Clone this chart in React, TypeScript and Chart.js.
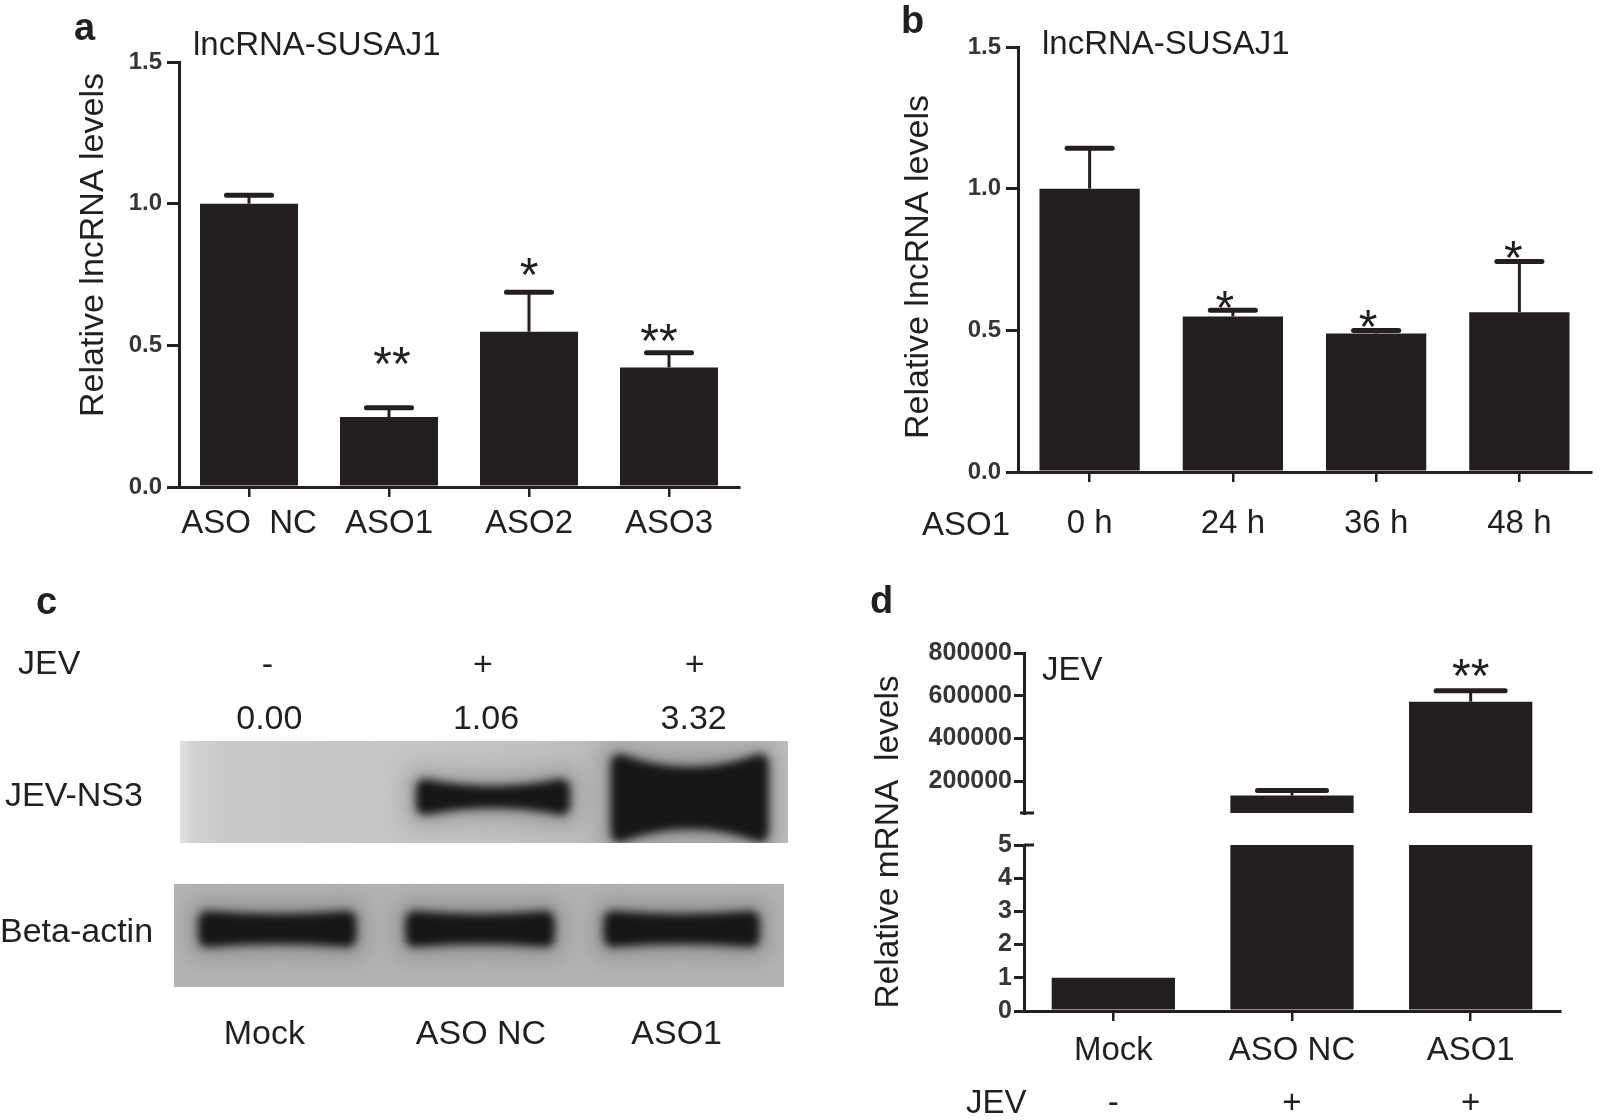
import React, { useEffect, useRef } from 'react';
import { Chart, registerables } from 'chart.js';

Chart.register(...registerables);

// ---------------- data ----------------
// Panel a
const aCategories = ['ASO  NC', 'ASO1', 'ASO2', 'ASO3'];
const aValues = [1.0, 0.247, 0.548, 0.422];
const aErrors = [0.03, 0.033, 0.139, 0.052];
const aStars = ['', '**', '*', '**'];
const aStarLevels = [null, 0.475, 0.79, 0.556];
const aTicks = [0, 0.5, 1.0, 1.5];

// Panel b
const bCategories = ['0 h', '24 h', '36 h', '48 h'];
const bValues = [1.0, 0.549, 0.489, 0.564];
const bErrors = [0.143, 0.022, 0.01, 0.179];
const bStars = ['', '*', '*', '*'];
const bStarLevels = [null, 0.62, 0.553, 0.795];
const bTicks = [0, 0.5, 1.0, 1.5];

// Panel c (western blot)
const cLanes = ['Mock', 'ASO NC', 'ASO1'];
const cJev = ['-', '+', '+'];
const cNs3 = [0.0, 1.06, 3.32];
const cNs3Labels = ['0.00', '1.06', '3.32'];
const cActin = [1, 1, 1];

// Panel d
const dCategories = ['Mock', 'ASO NC', 'ASO1'];
const dJev = ['-', '+', '+'];
const dValues = [1, 132000, 572000];
const dErrors = [0, 23000, 51000];
const dStars = ['', '', '**'];
const dStarLevels = [null, null, 745000];
const dUpperTicks = [200000, 400000, 600000, 800000];
const dLowerTicks = [0, 1, 2, 3, 4, 5];
const dUpperRange = [50000, 800000];
const dLowerRange = [0, 5];

// ---------------- styles ----------------
const INK = '#231f20';
const TICK_INK = '#363636';
const SANS = '"Liberation Sans", Arial, Helvetica, sans-serif';
const STAR_SIZE = 48;
// small horizontal nudges of the significance marks (pixels)
const A_STAR_DX = [0, 3, 0, -10];
const B_STAR_DX = [0, -8, -8, -6];
const D_STAR_DX = [0, 0, 0];

function txt(ctx: CanvasRenderingContext2D, s: string, x: number, y: number, font: string, align: CanvasTextAlign = 'left', color = INK) {
  ctx.save();
  ctx.font = font;
  ctx.fillStyle = color;
  ctx.textAlign = align;
  ctx.textBaseline = 'alphabetic';
  ctx.fillText(s, x, y);
  ctx.restore();
}

function vtxt(ctx: CanvasRenderingContext2D, s: string, baseX: number, cy: number, font: string) {
  ctx.save();
  ctx.translate(baseX, cy);
  ctx.rotate(-Math.PI / 2);
  ctx.font = font;
  ctx.fillStyle = INK;
  ctx.textAlign = 'center';
  ctx.textBaseline = 'alphabetic';
  ctx.fillText(s, 0, 0);
  ctx.restore();
}

type Pad = { left: number; top: number; right: number; bottom: number };

type PanelOpts = {
  name: string;
  labels: string[];
  values: number[];
  errors: number[] | null;
  stars: string[] | null;
  starLevels: (number | null)[] | null;
  starDx: number[];
  ticks: number[];
  min: number;
  max: number;
  fmt: (v: number) => string;
  yWidth: number;
  xHeight: number;
  pad: Pad;
  yFont: any;
  yTickLen: number;
  yTickPad: number;
  xTickPad: number;
  barPct: number;
  capFrac: number;
  showX: boolean;
  clip: boolean;
  decorate?: (chart: any, ctx: CanvasRenderingContext2D) => void;
};

function barConfig(o: PanelOpts): any {
  const overlay = {
    id: 'overlay_' + o.name,
    afterDatasetsDraw(chart: any) {
      const ctx: CanvasRenderingContext2D = chart.ctx;
      const y = chart.scales.y;
      const meta = chart.getDatasetMeta(0);
      if (o.errors) {
        ctx.save();
        ctx.strokeStyle = INK;
        meta.data.forEach((bar: any, i: number) => {
          const e = o.errors![i];
          if (!e) return;
          const top = y.getPixelForValue(o.values[i] + e);
          const half = (bar.width * o.capFrac) / 2;
          ctx.lineWidth = 3;
          ctx.lineCap = 'butt';
          ctx.beginPath();
          ctx.moveTo(bar.x, bar.y);
          ctx.lineTo(bar.x, top);
          ctx.stroke();
          ctx.lineWidth = 5;
          ctx.lineCap = 'round';
          ctx.beginPath();
          ctx.moveTo(bar.x - half, top);
          ctx.lineTo(bar.x + half, top);
          ctx.stroke();
        });
        ctx.restore();
      }
      if (o.stars && o.starLevels) {
        meta.data.forEach((bar: any, i: number) => {
          const s = o.stars![i];
          const lvl = o.starLevels![i];
          if (!s || lvl == null) return;
          const cy = y.getPixelForValue(lvl);
          txt(ctx, s, bar.x + (o.starDx[i] || 0), cy + 0.57 * STAR_SIZE, `${STAR_SIZE}px ${SANS}`, 'center');
        });
      }
    },
    afterDraw(chart: any) {
      if (o.decorate) o.decorate(chart, chart.ctx);
    },
  };

  return {
    type: 'bar',
    data: {
      labels: o.labels,
      datasets: [
        {
          label: o.name,
          data: o.values,
          backgroundColor: INK,
          borderWidth: 0,
          barPercentage: o.barPct,
          categoryPercentage: 1,
          clip: o.clip ? 0 : false,
        },
      ],
    },
    options: {
      responsive: false,
      maintainAspectRatio: false,
      animation: false,
      devicePixelRatio: 1,
      events: [],
      layout: { padding: o.pad },
      plugins: { legend: { display: false }, tooltip: { enabled: false }, title: { display: false } },
      scales: {
        x: {
          display: o.showX,
          offset: true,
          grid: {
            display: true,
            offset: false,
            drawOnChartArea: false,
            drawTicks: true,
            tickLength: 10,
            lineWidth: 2.5,
            color: INK,
          },
          border: { display: true, color: INK, width: 3 },
          ticks: {
            font: { family: SANS, size: 33 },
            color: INK,
            padding: o.xTickPad,
            maxRotation: 0,
            minRotation: 0,
            autoSkip: false,
          },
          afterFit: (s: any) => {
            s.height = o.xHeight;
          },
        },
        y: {
          min: o.min,
          max: o.max,
          afterBuildTicks: (s: any) => {
            s.ticks = o.ticks.map((v) => ({ value: v }));
          },
          grid: {
            display: true,
            drawOnChartArea: false,
            drawTicks: true,
            tickLength: o.yTickLen,
            lineWidth: 3,
            color: INK,
          },
          border: { display: true, color: INK, width: 3 },
          ticks: {
            font: o.yFont,
            color: TICK_INK,
            padding: o.yTickPad,
            callback: (v: any) => o.fmt(Number(v)),
          },
          afterFit: (s: any) => {
            s.width = o.yWidth;
          },
        },
      },
    },
    plugins: [overlay],
  };
}

// ---------------- panel configs ----------------
const abYFont = { family: SANS, size: 24, weight: 'bold' };

function makeA() {
  return barConfig({
    name: 'lncRNA-SUSAJ1 (ASO screen)',
    labels: aCategories,
    values: aValues,
    errors: aErrors,
    stars: aStars,
    starLevels: aStarLevels,
    starDx: A_STAR_DX,
    ticks: aTicks,
    min: 0,
    max: 1.5,
    fmt: (v) => v.toFixed(1),
    yWidth: 179,
    xHeight: 73,
    pad: { left: 0, top: 62, right: 61, bottom: 0 },
    yFont: abYFont,
    yTickLen: 12,
    yTickPad: 5,
    xTickPad: 7,
    barPct: 0.7,
    capFrac: 0.46,
    showX: true,
    clip: false,
    decorate: (chart, ctx) => {
      txt(ctx, 'a', 74, 40, `bold 38px ${SANS}`);
      txt(ctx, 'lncRNA-SUSAJ1', 193, 55, `33px ${SANS}`);
      vtxt(ctx, 'Relative lncRNA levels', 103, 245, `34px ${SANS}`);
    },
  });
}

function makeB() {
  return barConfig({
    name: 'lncRNA-SUSAJ1 (time course)',
    labels: bCategories,
    values: bValues,
    errors: bErrors,
    stars: bStars,
    starLevels: bStarLevels,
    starDx: B_STAR_DX,
    ticks: bTicks,
    min: 0,
    max: 1.5,
    fmt: (v) => v.toFixed(1),
    yWidth: 178,
    xHeight: 88,
    pad: { left: 0, top: 47, right: 9, bottom: 0 },
    yFont: abYFont,
    yTickLen: 12,
    yTickPad: 5,
    xTickPad: 22,
    barPct: 0.7,
    capFrac: 0.45,
    showX: true,
    clip: false,
    decorate: (chart, ctx) => {
      txt(ctx, 'b', 61, 33, `bold 38px ${SANS}`);
      txt(ctx, 'lncRNA-SUSAJ1', 202, 54, `33px ${SANS}`);
      vtxt(ctx, 'Relative lncRNA levels', 88, 267, `34px ${SANS}`);
      txt(ctx, 'ASO1', 126, 535, `33px ${SANS}`, 'center');
    },
  });
}

const dYFont = { family: SANS, size: 25, weight: 'bold' };

function makeDUpper() {
  return barConfig({
    name: 'JEV (upper segment)',
    labels: dCategories,
    values: dValues,
    errors: dErrors,
    stars: dStars,
    starLevels: dStarLevels,
    starDx: D_STAR_DX,
    ticks: dUpperTicks,
    min: dUpperRange[0],
    max: dUpperRange[1],
    fmt: (v) => String(v),
    yWidth: 184,
    xHeight: 0,
    pad: { left: 0, top: 83, right: 40, bottom: 12 },
    yFont: dYFont,
    yTickLen: 10,
    yTickPad: 2,
    xTickPad: 10,
    barPct: 0.69,
    capFrac: 0.56,
    showX: false,
    clip: true,
    decorate: (chart, ctx) => {
      const a = chart.chartArea;
      txt(ctx, 'd', 30, 43, `bold 38px ${SANS}`);
      txt(ctx, 'JEV', 202, 110, `33px ${SANS}`);
      ctx.save();
      ctx.strokeStyle = INK;
      ctx.lineWidth = 3;
      ctx.beginPath();
      ctx.moveTo(a.left - 4, a.bottom);
      ctx.lineTo(a.left + 10, a.bottom);
      ctx.stroke();
      ctx.restore();
    },
  });
}

function makeDLower() {
  return barConfig({
    name: 'JEV (lower segment)',
    labels: dCategories,
    values: dValues,
    errors: null,
    stars: null,
    starLevels: null,
    starDx: D_STAR_DX,
    ticks: dLowerTicks,
    min: dLowerRange[0],
    max: dLowerRange[1],
    fmt: (v) => String(v),
    yWidth: 184,
    xHeight: 109,
    pad: { left: 0, top: 275, right: 40, bottom: 0 },
    yFont: dYFont,
    yTickLen: 10,
    yTickPad: 2,
    xTickPad: 10,
    barPct: 0.69,
    capFrac: 0.56,
    showX: true,
    clip: true,
    decorate: (chart, ctx) => {
      const a = chart.chartArea;
      const x = chart.scales.x;
      vtxt(ctx, 'Relative mRNA  levels', 58, 272, `33.5px ${SANS}`);
      txt(ctx, 'JEV', 126, 543, `33px ${SANS}`);
      dJev.forEach((s, i) => txt(ctx, s, x.getPixelForValue(i), 543, `33px ${SANS}`, 'center'));
      ctx.save();
      ctx.strokeStyle = INK;
      ctx.lineWidth = 3;
      ctx.beginPath();
      ctx.moveTo(a.left, a.top);
      ctx.lineTo(a.left + 10, a.top);
      ctx.stroke();
      ctx.restore();
    },
  });
}

// ---------------- panel c: blot ----------------
const C_TOP = 570; // canvas top in page coordinates
const NS3_SHAPES: ({ dx: number; w: number; cy: number; edge: number; mid: number } | null)[] = [
  null,
  { dx: 13, w: 154, cy: 797, edge: 36, mid: 22 },
  { dx: 7, w: 158, cy: 798, edge: 88, mid: 62 },
];
const ACTIN_SHAPES = [
  { dx: 0, w: 158 },
  { dx: 0, w: 149 },
  { dx: -1, w: 156 },
];
// horizontal nudges of the text rows relative to lane centres
const C_SIGN_SHIFT = [-10, 3, 12];
const C_NUM_SHIFT = [-8, 6, 11];
const C_LANE_SHIFT = [-13, 1, -6];

function bandPath(ctx: CanvasRenderingContext2D, cx: number, cy: number, w: number, edge: number, mid: number) {
  const l = cx - w / 2;
  const r = cx + w / 2;
  const te = cy - edge / 2;
  const be = cy + edge / 2;
  const ct = cy - mid + edge / 2;
  const cb = cy + mid - edge / 2;
  const rr = Math.min(10, edge / 3);
  ctx.beginPath();
  ctx.moveTo(l + rr, te);
  ctx.quadraticCurveTo(cx, ct, r - rr, te);
  ctx.quadraticCurveTo(r, te, r, te + rr);
  ctx.lineTo(r, be - rr);
  ctx.quadraticCurveTo(r, be, r - rr, be);
  ctx.quadraticCurveTo(cx, cb, l + rr, be);
  ctx.quadraticCurveTo(l, be, l, be - rr);
  ctx.lineTo(l, te + rr);
  ctx.quadraticCurveTo(l, te, l + rr, te);
  ctx.closePath();
}

function drawBand(ctx: CanvasRenderingContext2D, cx: number, cy: number, w: number, edge: number, mid: number) {
  ctx.save();
  ctx.filter = 'blur(12px)';
  ctx.fillStyle = 'rgba(70,70,70,0.35)';
  bandPath(ctx, cx, cy, w + 16, edge + 20, mid + 20);
  ctx.fill();
  ctx.restore();
  ctx.save();
  ctx.filter = 'blur(4px)';
  ctx.fillStyle = '#161616';
  bandPath(ctx, cx, cy, w, edge, mid);
  ctx.fill();
  ctx.restore();
}

function makeC() {
  const blot = {
    id: 'blot',
    afterDraw(chart: any) {
      const ctx: CanvasRenderingContext2D = chart.ctx;
      const x = chart.scales.x;
      const lane = (i: number) => x.getPixelForValue(i);
      const Y = (v: number) => v - C_TOP;
      const f34 = `34px ${SANS}`;

      txt(ctx, 'c', 36, Y(614), `bold 38px ${SANS}`);
      txt(ctx, 'JEV', 18, Y(674), f34);
      cJev.forEach((s, i) => txt(ctx, s, lane(i) + C_SIGN_SHIFT[i], Y(675), f34, 'center'));
      cNs3Labels.forEach((s, i) => txt(ctx, s, lane(i) + C_NUM_SHIFT[i], Y(729), f34, 'center'));
      txt(ctx, 'JEV-NS3', 5, Y(806), f34);
      txt(ctx, 'Beta-actin', 0, Y(942), f34);
      cLanes.forEach((s, i) => txt(ctx, s, lane(i) + C_LANE_SHIFT[i], Y(1044), f34, 'center'));

      // upper membrane
      const tb = { l: 180, r: 788, t: Y(741), b: Y(843) };
      ctx.save();
      const g = ctx.createLinearGradient(tb.l, 0, tb.r, 0);
      g.addColorStop(0, '#e2e2e2');
      g.addColorStop(0.025, '#d0d0d0');
      g.addColorStop(0.08, '#c8c8c8');
      g.addColorStop(0.4, '#c5c5c5');
      g.addColorStop(0.62, '#bfbfbf');
      g.addColorStop(0.85, '#b6b6b6');
      g.addColorStop(1, '#c2c2c2');
      ctx.fillStyle = g;
      ctx.fillRect(tb.l, tb.t, tb.r - tb.l, tb.b - tb.t);
      ctx.beginPath();
      ctx.rect(tb.l, tb.t, tb.r - tb.l, tb.b - tb.t);
      ctx.clip();
      cNs3.forEach((v, i) => {
        const s = NS3_SHAPES[i];
        if (v <= 0 || !s) return;
        drawBand(ctx, lane(i) + s.dx, Y(s.cy), s.w, s.edge, s.mid);
      });
      ctx.restore();

      // lower membrane
      const bb = { l: 174, r: 784, t: Y(884), b: Y(987) };
      ctx.save();
      ctx.fillStyle = '#b4b4b4';
      ctx.fillRect(bb.l, bb.t, bb.r - bb.l, bb.b - bb.t);
      ctx.beginPath();
      ctx.rect(bb.l, bb.t, bb.r - bb.l, bb.b - bb.t);
      ctx.clip();
      cActin.forEach((v, i) => {
        const s = ACTIN_SHAPES[i];
        if (v <= 0) return;
        drawBand(ctx, lane(i) + s.dx, Y(929), s.w, 36 * v, 30 * v);
      });
      ctx.restore();
    },
  };
  return {
    type: 'bar',
    data: {
      labels: cLanes,
      datasets: [{ label: 'JEV-NS3 / Beta-actin', data: cNs3, backgroundColor: 'rgba(0,0,0,0)', borderWidth: 0 }],
    },
    options: {
      responsive: false,
      maintainAspectRatio: false,
      animation: false,
      devicePixelRatio: 1,
      events: [],
      layout: { padding: { left: 176, right: 16, top: 0, bottom: 0 } },
      plugins: { legend: { display: false }, tooltip: { enabled: false } },
      scales: {
        x: { display: false },
        y: { display: false, min: 0, max: 4 },
      },
    },
    plugins: [blot],
  };
}

// ---------------- components ----------------
type Box = { left: number; top: number; width: number; height: number };

function ChartCanvas({ box, make }: { box: Box; make: () => any }) {
  const ref = useRef<HTMLCanvasElement | null>(null);
  useEffect(() => {
    if (!ref.current) return;
    const chart = new Chart(ref.current, make());
    return () => chart.destroy();
  }, []);
  return (
    <div style={{ position: 'absolute', left: box.left, top: box.top, width: box.width, height: box.height }}>
      <canvas
        ref={ref}
        width={box.width}
        height={box.height}
        style={{ width: box.width, height: box.height, display: 'block' }}
      />
    </div>
  );
}

export default function App() {
  return (
    <div
      style={{
        position: 'absolute',
        left: 0,
        top: 0,
        width: 1600,
        height: 1120,
        background: '#ffffff',
        overflow: 'hidden',
      }}
    >
      <ChartCanvas box={{ left: 0, top: 0, width: 800, height: 560 }} make={makeA} />
      <ChartCanvas box={{ left: 840, top: 0, width: 760, height: 560 }} make={makeB} />
      <ChartCanvas box={{ left: 0, top: 570, width: 800, height: 500 }} make={makeC} />
      <ChartCanvas box={{ left: 840, top: 570, width: 760, height: 260 }} make={makeDUpper} />
      <ChartCanvas box={{ left: 840, top: 570, width: 760, height: 550 }} make={makeDLower} />
    </div>
  );
}
